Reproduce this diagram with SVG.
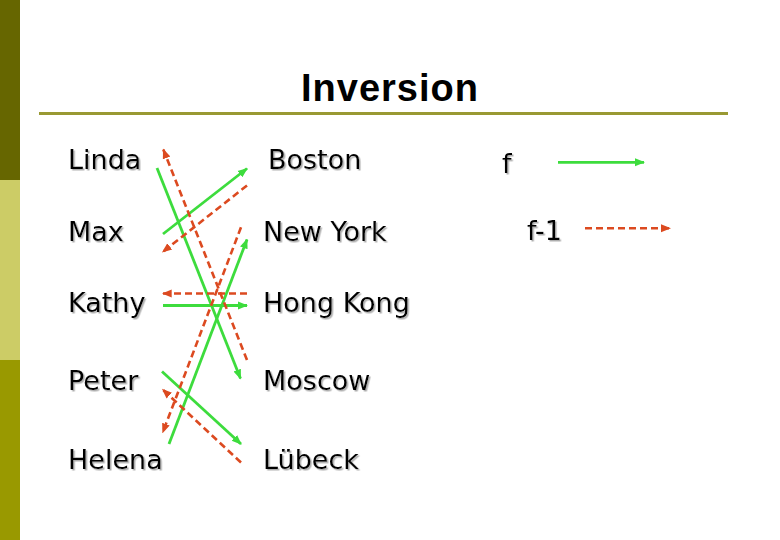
<svg xmlns="http://www.w3.org/2000/svg" width="780" height="540" viewBox="0 0 780 540">
<defs>
<style>
.lbl{font-family:"DejaVu Sans",Verdana,sans-serif;font-size:27px;fill:#000;filter:url(#sh)}
.title{font-family:"Liberation Sans",Arial,sans-serif;font-weight:bold;font-size:38px;fill:#000}
.f{stroke:#3ddc3d;stroke-width:2.8;fill:none;marker-end:url(#ag)}
.fi{stroke:#dc4a20;stroke-width:2.6;fill:none;stroke-dasharray:7 4;marker-end:url(#ar)}
</style>
<filter id="sh" x="-10%" y="-20%" width="130%" height="150%">
<feDropShadow dx="1.5" dy="1.5" stdDeviation="0.6" flood-color="#9a9a9a" flood-opacity="0.8"/>
</filter>
<marker id="ag" viewBox="0 0 10 10" refX="9" refY="5" markerWidth="10" markerHeight="10" markerUnits="userSpaceOnUse" orient="auto">
<path d="M0,1 L10,5 L0,9 Z" fill="#3ddc3d"/>
</marker>
<marker id="ar" viewBox="0 0 10 10" refX="9" refY="5" markerWidth="10" markerHeight="10" markerUnits="userSpaceOnUse" orient="auto">
<path d="M0,1 L10,5 L0,9 Z" fill="#dc4a20"/>
</marker>
</defs>
<rect width="780" height="540" fill="#fff"/>
<g id="sidebar">
<rect x="0" y="0" width="20" height="180" fill="#666600"/>
<rect x="0" y="180" width="20" height="180" fill="#cccc66"/>
<rect x="0" y="360" width="20" height="180" fill="#999900"/>
</g>
<g id="title">
<text class="title" x="301" y="101" textLength="177">Inversion</text>
<line x1="39" y1="113.5" x2="728" y2="113.5" stroke="#999933" stroke-width="3"/>
</g>
<g id="linda"><text class="lbl" x="68" y="169">Linda</text></g>
<g id="max"><text class="lbl" x="68" y="241">Max</text></g>
<g id="kathy"><text class="lbl" x="68" y="312">Kathy</text></g>
<g id="peter"><text class="lbl" x="68" y="390">Peter</text></g>
<g id="helena"><text class="lbl" x="68" y="469">Helena</text></g>
<g id="boston"><text class="lbl" x="268" y="169">Boston</text></g>
<g id="newyork"><text class="lbl" x="263" y="241">New York</text></g>
<g id="hongkong"><text class="lbl" x="263" y="312">Hong Kong</text></g>
<g id="moscow"><text class="lbl" x="263" y="390">Moscow</text></g>
<g id="luebeck"><text class="lbl" x="263" y="469">Lübeck</text></g>
<g id="legend">
<text class="lbl" x="502" y="173">f</text>
<text class="lbl" x="527" y="240">f-1</text>
</g>
<g id="connectors">
<line class="f" x1="157" y1="168" x2="240.5" y2="378.5"/>
<line class="f" x1="163" y1="234" x2="247" y2="168.5"/>
<line class="f" x1="163" y1="305.5" x2="247" y2="305.5"/>
<line class="f" x1="162" y1="371.5" x2="241" y2="444"/>
<line class="f" x1="169" y1="444" x2="247" y2="239.5"/>
<line class="fi" x1="247" y1="360" x2="163.3" y2="149.5"/>
<line class="fi" x1="247" y1="185.5" x2="162.7" y2="252"/>
<line class="fi" x1="247" y1="293.5" x2="162.7" y2="293.5"/>
<line class="fi" x1="241" y1="227.3" x2="162.7" y2="432.5"/>
<line class="fi" x1="241" y1="462.5" x2="162.7" y2="389.5"/>
<line class="f" x1="558" y1="162.3" x2="644" y2="162.3"/>
<line class="fi" x1="585" y1="228.3" x2="670" y2="228.3"/>
</g>
</svg>
